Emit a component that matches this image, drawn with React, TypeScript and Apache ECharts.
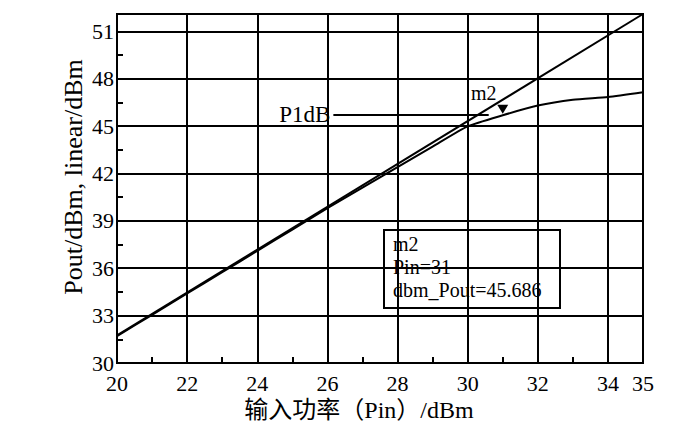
import React, { useEffect, useRef } from "react";
import * as echarts from "echarts";

const pinValues = [20, 21, 22, 23, 24, 25, 26, 27, 28, 29, 30, 31, 32, 33, 34, 35];
const poutValues = [31.7, 33.05, 34.4, 35.75, 37.1, 38.45, 39.8, 41.1, 42.4, 43.7, 44.98, 45.686, 46.3, 46.67, 46.85, 47.15];
const linearLine = [
  [20, 31.75],
  [35, 52.1],
];
const markerPoint = [31, 45.686];
const p1dbLine = [
  [26.17, 45.72],
  [30.6, 45.72],
];
const markerTextLines = ["m2", "Pin=31", "dbm_Pout=45.686"];
const xName = "输入功率（Pin）/dBm";
const yName = "Pout/dBm, linear/dBm";

const SERIF = "'Liberation Serif', 'Times New Roman', 'Noto Sans CJK SC', serif";
const BLACK = "#000";

export default function App() {
  const ref = useRef<HTMLDivElement>(null);
  useEffect(() => {
    if (!ref.current) return;
    const chart = echarts.init(ref.current, null, { renderer: "svg" });
    const curve = pinValues.map((p, i) => [p, poutValues[i]]);
    chart.setOption({
      animation: false,
      backgroundColor: "#fff",
      grid: { left: 117, right: 57, top: 14, bottom: 73, show: true, borderColor: BLACK, borderWidth: 2 },
      xAxis: {
        type: "value",
        min: 20,
        max: 35,
        interval: 2,
        axisLine: { show: true, lineStyle: { color: BLACK, width: 2 } },
        axisTick: { show: false, inside: true },
        minorTick: { show: true, splitNumber: 2, length: 6, lineStyle: { color: BLACK, width: 2 } },
        splitLine: { show: true, lineStyle: { color: BLACK, width: 2 } },
        axisLabel: { color: BLACK, fontFamily: SERIF, fontSize: 22, margin: 9 },
      },
      yAxis: {
        type: "value",
        min: 30,
        max: 52.1,
        interval: 3,
        axisLine: { show: true, lineStyle: { color: BLACK, width: 2 } },
        axisTick: { show: false, inside: true },
        minorTick: { show: true, splitNumber: 2, length: 6, lineStyle: { color: BLACK, width: 2 } },
        splitLine: { show: true, lineStyle: { color: BLACK, width: 2 } },
        axisLabel: {
          color: BLACK,
          fontFamily: SERIF,
          fontSize: 22,
          margin: 3,
          formatter: (v: number) => (v > 51.5 ? "" : String(v)),
        },
      },
      series: [
        {
          type: "line",
          data: linearLine,
          showSymbol: false,
          symbol: "none",
          lineStyle: { color: BLACK, width: 2 },
        },
        {
          type: "line",
          data: curve,
          smooth: 0.2,
          showSymbol: false,
          symbol: "none",
          lineStyle: { color: BLACK, width: 2 },
          markPoint: {
            symbol: "triangle",
            symbolRotate: 180,
            symbolSize: [11, 9],
            symbolOffset: [0, -6],
            itemStyle: { color: BLACK },
            label: {
              show: true,
              formatter: "m2",
              position: "inside",
              offset: [-19, -16],
              color: BLACK,
              fontFamily: SERIF,
              fontSize: 20,
            },
            data: [{ coord: markerPoint }],
          },
          markLine: {
            silent: true,
            symbol: ["none", "none"],
            lineStyle: { color: BLACK, width: 2, type: "solid" },
            label: {
              show: true,
              position: "start",
              formatter: "P1dB",
              distance: 3,
              color: BLACK,
              fontFamily: SERIF,
              fontSize: 23,
            },
            data: [[{ coord: p1dbLine[0] }, { coord: p1dbLine[1] }]],
          },
        },
      ],
      graphic: [
        {
          type: "group",
          left: 383,
          top: 229,
          children: [
            {
              type: "rect",
              shape: { x: 0, y: 0, width: 176, height: 78 },
              style: { fill: "#fff", stroke: BLACK, lineWidth: 2 },
            },
            ...markerTextLines.map((t, i) => ({
              type: "text",
              x: 9,
              y: 14 + i * 23,
              style: {
                text: t,
                fill: BLACK,
                font: `20px ${SERIF}`,
                verticalAlign: "middle",
              },
            })),
          ],
        },
        {
          type: "text",
          x: 359,
          y: 410,
          style: {
            text: xName,
            fill: BLACK,
            font: `24px ${SERIF}`,
            align: "center",
            verticalAlign: "middle",
          },
        },
        {
          type: "text",
          x: 73,
          y: 177,
          rotation: Math.PI / 2,
          style: {
            text: yName,
            fill: BLACK,
            font: `26px ${SERIF}`,
            align: "center",
            verticalAlign: "middle",
          },
        },
      ],
    });
    return () => chart.dispose();
  }, []);
  return (
    <div
      ref={ref}
      style={{ position: "fixed", left: 0, top: 0, width: 700, height: 436, background: "#fff" }}
    />
  );
}
